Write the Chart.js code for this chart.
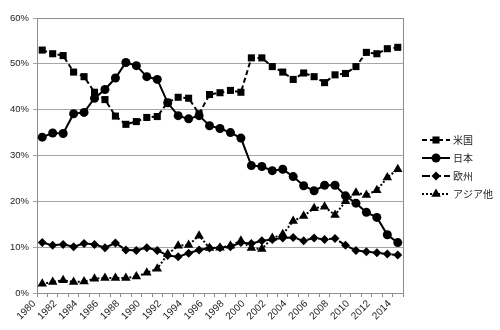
<!DOCTYPE html>
<html>
<head>
<meta charset="utf-8">
<script src="https://cdn.jsdelivr.net/npm/chart.js@4/dist/chart.umd.min.js"></script>
<style>
html,body{margin:0;padding:0;background:#fff;}
#wrap{width:500px;height:330px;}
</style>
</head>
<body>
<div id="wrap"><canvas id="c" width="500" height="330"></canvas></div>
<script>
const years = [];
for (let y = 1980; y <= 2014; y++) years.push(String(y));

const seriesNames = ['米国', '日本', '欧州', 'アジア他'];

const usData = [53.0,52.2,51.8,48.2,47.2,43.8,42.2,38.6,36.8,37.4,38.3,38.5,41.6,42.7,42.5,39.1,43.3,43.7,44.2,43.8,
  51.3,51.3,49.4,48.2,46.6,48.0,47.2,45.9,47.6,47.9,49.4,52.5,52.2,53.3,53.6];
const japanData = [34.0,34.9,34.8,39.1,39.4,42.5,44.4,46.9,50.3,49.6,47.2,46.6,41.5,38.7,38.0,38.7,36.5,35.9,35.0,33.8,
  27.8,27.6,26.7,27.0,25.4,23.4,22.3,23.5,23.5,21.2,19.6,17.6,16.5,12.7,11.0];
const europeData = [11.0,10.4,10.6,10.1,10.8,10.6,9.9,10.9,9.4,9.3,9.9,9.3,8.2,7.9,8.7,9.4,9.8,9.9,10.1,11.0,
  10.8,11.4,11.7,12.0,12.1,11.4,12.0,11.7,11.9,10.4,9.3,9.0,8.8,8.5,8.3];
const asiaData = [2.0,2.4,2.8,2.4,2.5,3.1,3.3,3.3,3.3,3.6,4.4,5.3,8.5,10.3,10.5,12.5,9.8,9.9,10.3,11.4,
  9.8,9.6,12.0,12.8,15.7,16.8,18.5,18.8,17.0,20.0,21.9,21.4,22.4,25.2,27.0];

const yMin = 0, yMax = 60, yStep = 10;

const styles = [
  {dash:[5,3], point:'rect', radius:5},
  {dash:[], point:'circle', radius:4.5},
  {dash:[8,3], point:'rectRot', radius:4.5},
  {dash:[2,2], point:'triangle', radius:5.5}
];
const allData = [usData, japanData, europeData, asiaData];

const datasets = allData.map((d, i) => ({
  label: seriesNames[i],
  data: d,
  borderColor: '#000',
  backgroundColor: '#000',
  borderWidth: 2,
  borderDash: styles[i].dash,
  pointStyle: styles[i].point,
  pointRadius: styles[i].radius,
  pointBorderWidth: 0,
  pointBackgroundColor: '#000',
  tension: 0,
  fill: false
}));

const framePlugin = {
  id: 'frame',
  beforeDatasetsDraw(chart) {
    const {ctx, chartArea: a} = chart;
    ctx.save();
    ctx.strokeStyle = '#8c8c8c';
    ctx.lineWidth = 1;
    ctx.strokeRect(Math.round(a.left) + 0.5, Math.round(a.top) + 0.5, Math.round(a.right - a.left), Math.round(a.bottom - a.top));
    ctx.restore();
  }
};

const legendPlugin = {
  id: 'customLegend',
  afterDraw(chart) {
    const {ctx, chartArea: a} = chart;
    const x0 = a.right + 19, x1 = a.right + 47, tx = a.right + 50;
    const yStart = 140, gap = 18;
    ctx.save();
    chart.data.datasets.forEach((ds, i) => {
      const y = yStart + i * gap;
      ctx.strokeStyle = '#000';
      ctx.lineWidth = 2;
      ctx.setLineDash(ds.borderDash || []);
      ctx.beginPath();
      ctx.moveTo(x0, y);
      ctx.lineTo(x1, y);
      ctx.stroke();
      ctx.setLineDash([]);
      ctx.fillStyle = '#000';
      Chart.helpers.drawPoint(ctx, {pointStyle: ds.pointStyle, radius: ds.pointRadius, borderWidth: 0}, (x0 + x1) / 2, y);
      ctx.fillStyle = '#222';
      ctx.font = '10px "Noto Sans CJK JP", "Liberation Sans", sans-serif';
      ctx.textBaseline = 'middle';
      ctx.textAlign = 'left';
      ctx.fillText(ds.label, tx, y);
    });
    ctx.restore();
  }
};

new Chart(document.getElementById('c'), {
  type: 'line',
  data: {labels: years, datasets},
  options: {
    responsive: false,
    animation: false,
    devicePixelRatio: 1,
    layout: {padding: {top: 18, right: 97, left: 0, bottom: 0}},
    plugins: {legend: {display: false}, tooltip: {enabled: false}},
    scales: {
      x: {
        offset: true,
        grid: {display: true, drawOnChartArea: false, offset: true, tickLength: 4, color: '#8c8c8c'},
        border: {color: '#8c8c8c'},
        ticks: {
          autoSkip: false,
          minRotation: 45,
          maxRotation: 45,
          padding: 1,
          labelOffset: -8,
          color: '#222',
          font: {family: '"Liberation Sans", Arial, sans-serif', size: 10},
          callback: function(v, i) { return i % 2 === 0 ? this.getLabelForValue(v) : ''; }
        },
        afterFit(scale) { scale.height = 37; }
      },
      y: {
        min: yMin, max: yMax,
        grid: {color: '#a6a6a6', tickLength: 4},
        border: {color: '#8c8c8c'},
        ticks: {
          stepSize: yStep,
          padding: 4,
          color: '#222',
          font: {family: '"Liberation Sans", Arial, sans-serif', size: 9.5},
          callback: v => v + '%'
        },
        afterFit(scale) { scale.width = 37; }
      }
    }
  },
  plugins: [framePlugin, legendPlugin]
});
</script>
</body>
</html>
